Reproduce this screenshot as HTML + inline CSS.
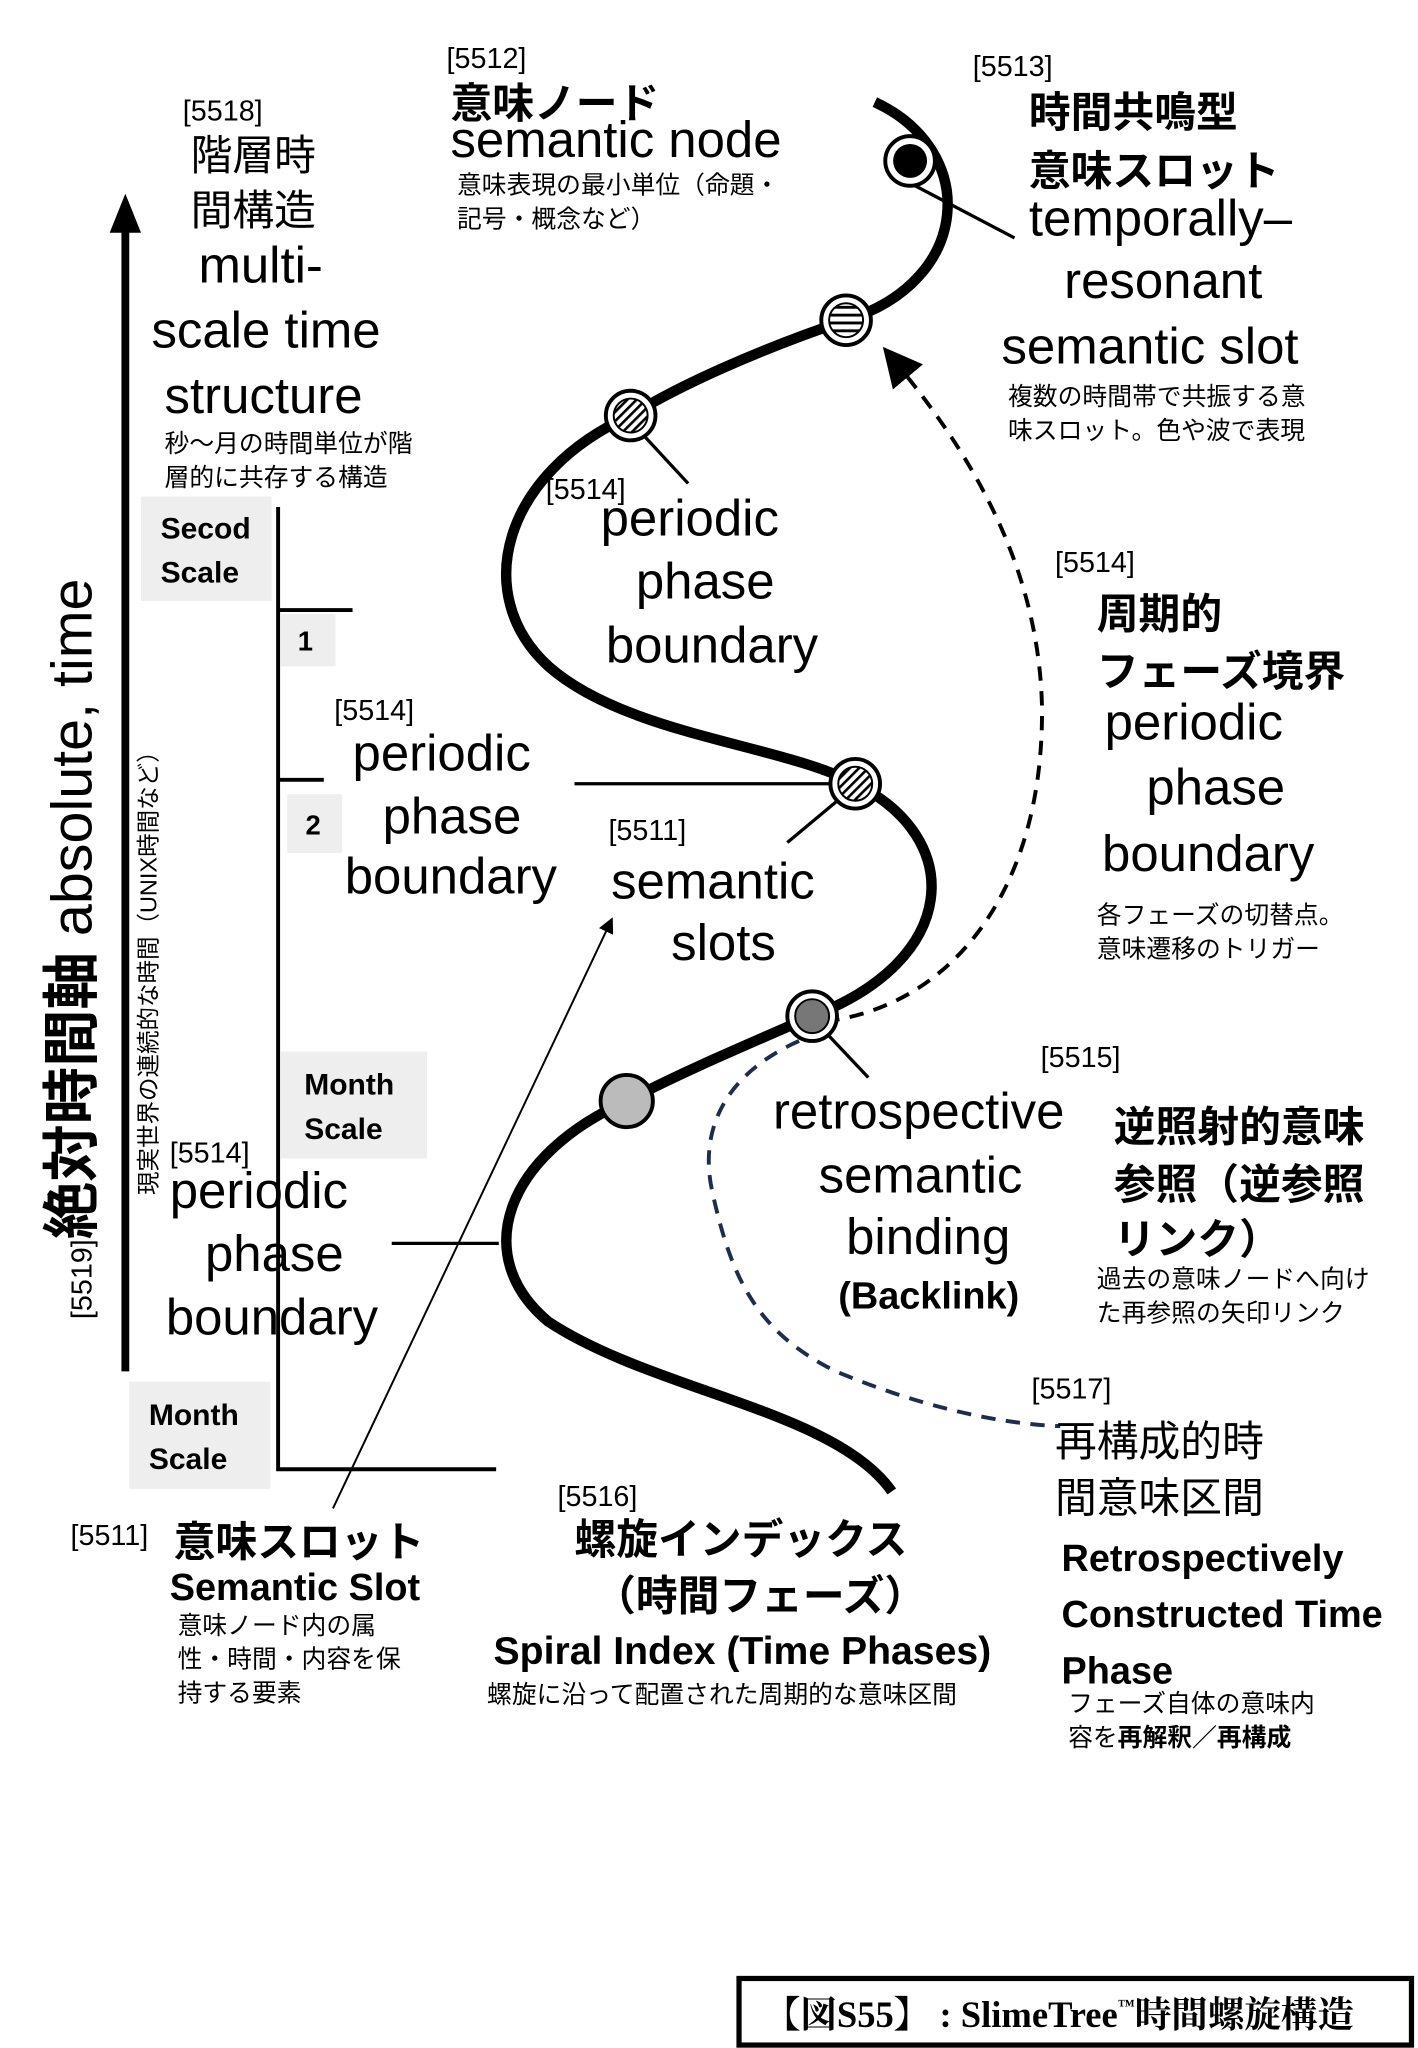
<!DOCTYPE html>
<html><head><meta charset="utf-8"><style>
html,body{margin:0;padding:0;background:#fff;}
svg{display:block}
text{font-family:"Liberation Sans","Noto Sans CJK JP",sans-serif;fill:#000}
.b{font-size:39px}
.s{font-size:19px}
.t{font-size:22px}
.j{font-size:32px;font-weight:bold}
.m{font-size:18px}
</style></head><body>
<svg width="1418" height="2048" viewBox="0 0 1086 1568" xmlns="http://www.w3.org/2000/svg">
<defs>
<pattern id="hs" width="6" height="6" patternUnits="userSpaceOnUse"><rect width="6" height="6" fill="#fff"/><rect y="0" width="6" height="2.2" fill="#000"/></pattern>
<pattern id="dg" width="5" height="5" patternUnits="userSpaceOnUse" patternTransform="rotate(45)"><rect width="5" height="5" fill="#fff"/><rect width="2" height="5" fill="#000"/></pattern>
<marker id="ah" markerWidth="10" markerHeight="10" refX="8" refY="5" orient="auto"><path d="M0,0 L10,5 L0,10 z" fill="#000"/></marker>
<marker id="ah2" markerWidth="8" markerHeight="8" refX="6" refY="4" orient="auto"><path d="M0,0 L8,4 L0,8 z" fill="#000"/></marker>
</defs>
<rect x="108" y="380" width="100" height="80" fill="#eee"/>
<rect x="215" y="470" width="42" height="40" fill="#eee"/>
<rect x="220" y="608" width="42" height="45" fill="#eee"/>
<rect x="215" y="805" width="112" height="82" fill="#eee"/>
<rect x="99" y="1058" width="108" height="82" fill="#eee"/>
<text x="123" y="412" style="font-size:23px;font-weight:bold">Secod</text>
<text x="123" y="446" style="font-size:23px;font-weight:bold">Scale</text>
<text x="228" y="498" style="font-size:21px;font-weight:bold">1</text>
<text x="234" y="639" style="font-size:21px;font-weight:bold">2</text>
<text x="233" y="838" style="font-size:23px;font-weight:bold">Month</text>
<text x="233" y="872" style="font-size:23px;font-weight:bold">Scale</text>
<text x="114" y="1091" style="font-size:23px;font-weight:bold">Month</text>
<text x="114" y="1125" style="font-size:23px;font-weight:bold">Scale</text>
<path d="M213,388 V1125 H380" stroke="#000" stroke-width="3" fill="none"/>
<line x1="213" y1="467" x2="270" y2="467" stroke="#000" stroke-width="3"/>
<line x1="213" y1="597" x2="248" y2="597" stroke="#000" stroke-width="3"/>
<line x1="96" y1="1050" x2="96" y2="170" stroke="#000" stroke-width="6"/>
<path d="M84,178 L96,148 L108,178 z" fill="#000"/>
<line x1="697" y1="140" x2="777" y2="182" stroke="#000" stroke-width="2.5"/>
<line x1="490" y1="330" x2="527" y2="370" stroke="#000" stroke-width="2.5"/>
<line x1="440" y1="600" x2="645" y2="600" stroke="#000" stroke-width="2.5"/>
<line x1="645" y1="610" x2="603" y2="645" stroke="#000" stroke-width="2.5"/>
<line x1="632" y1="790" x2="665" y2="825" stroke="#000" stroke-width="2.5"/>
<line x1="300" y1="952" x2="382" y2="952" stroke="#000" stroke-width="2.5"/>
<line x1="255" y1="1155" x2="468" y2="705" stroke="#000" stroke-width="1.5" marker-end="url(#ah2)"/>
<path d="M670,78 C750,115 745,215 648,245 C580,268 520,295 483,318 C385,362 360,455 420,510 C480,563 600,570 655,600 C740,642 735,735 622,778 C560,805 520,822 480,843 C386,885 360,962 420,1012 C500,1065 640,1080 683,1142" stroke="#000" stroke-width="8" fill="none"/>
<path d="M632,782 C730,770 800,680 798,540 C795,420 730,330 680,270" stroke="#000" stroke-width="3" stroke-dasharray="11,8" fill="none" marker-end="url(#ah)"/>
<path d="M612,797 C560,820 535,860 545,910 C560,980 580,1020 640,1050 C700,1075 760,1090 812,1092" stroke="#1f2d4d" stroke-width="3" stroke-dasharray="11,8" fill="none"/>
<circle cx="697" cy="123" r="19" fill="#fff" stroke="#000" stroke-width="3"/>
<circle cx="697" cy="123" r="13" fill="#000"/>
<circle cx="648" cy="245" r="19" fill="#fff" stroke="#000" stroke-width="3"/>
<circle cx="648" cy="245" r="13" fill="url(#hs)" stroke="#000" stroke-width="1.5"/>
<circle cx="483" cy="318" r="19" fill="#fff" stroke="#000" stroke-width="3"/>
<circle cx="483" cy="318" r="13" fill="url(#dg)" stroke="#000" stroke-width="1.5"/>
<circle cx="655" cy="600" r="19" fill="#fff" stroke="#000" stroke-width="3"/>
<circle cx="655" cy="600" r="13" fill="url(#dg)" stroke="#000" stroke-width="1.5"/>
<circle cx="622" cy="778" r="19" fill="#fff" stroke="#000" stroke-width="3"/>
<circle cx="622" cy="778" r="13" fill="#777" stroke="#000" stroke-width="1.5"/>
<circle cx="480" cy="843" r="20" fill="#bbb" stroke="#000" stroke-width="3"/>
<text x="342" y="52" class="t">[5512]</text>
<text x="345" y="90" class="j">意味ノード</text>
<text x="345" y="120" class="b">semantic node</text>
<text x="350" y="148" class="s">意味表現の最小単位（命題・</text>
<text x="350" y="174" class="s">記号・概念など）</text>
<text x="745" y="58" class="t">[5513]</text>
<text x="788" y="97" class="j">時間共鳴型</text>
<text x="788" y="142" class="j">意味スロット</text>
<text x="788" y="180" class="b">temporally–</text>
<text x="815" y="228" class="b">resonant</text>
<text x="767" y="278" class="b">semantic slot</text>
<text x="772" y="310" class="s">複数の時間帯で共振する意</text>
<text x="772" y="336" class="s">味スロット。色や波で表現</text>
<text x="140" y="92" class="t">[5518]</text>
<text x="146" y="130" style="font-size:32px">階層時</text>
<text x="146" y="172" style="font-size:32px">間構造</text>
<text x="152" y="216" class="b">multi-</text>
<text x="116" y="266" class="b">scale time</text>
<text x="126" y="316" class="b">structure</text>
<text x="126" y="346" class="s">秒〜月の時間単位が階</text>
<text x="126" y="372" class="s">層的に共存する構造</text>
<text x="418" y="382" class="t">[5514]</text>
<text x="460" y="410" class="b">periodic</text>
<text x="487" y="458" class="b">phase</text>
<text x="464" y="507" class="b">boundary</text>
<text x="808" y="438" class="t">[5514]</text>
<text x="840" y="481" class="j">周期的</text>
<text x="840" y="525" class="j">フェーズ境界</text>
<text x="846" y="566" class="b">periodic</text>
<text x="878" y="616" class="b">phase</text>
<text x="844" y="667" class="b">boundary</text>
<text x="840" y="707" class="s">各フェーズの切替点。</text>
<text x="840" y="733" class="s">意味遷移のトリガー</text>
<text x="256" y="551" class="t">[5514]</text>
<text x="270" y="590" class="b">periodic</text>
<text x="293" y="638" class="b">phase</text>
<text x="264" y="684" class="b">boundary</text>
<text x="466" y="643" class="t">[5511]</text>
<text x="468" y="688" class="b">semantic</text>
<text x="514" y="735" class="b">slots</text>
<text x="797" y="817" class="t">[5515]</text>
<text x="592" y="864" class="b">retrospective</text>
<text x="627" y="913" class="b">semantic</text>
<text x="648" y="960" class="b">binding</text>
<text x="642" y="1002" style="font-size:29px;font-weight:bold">(Backlink)</text>
<text x="853" y="874" class="j">逆照射的意味</text>
<text x="853" y="918" class="j">参照（逆参照</text>
<text x="853" y="960" class="j">リンク）</text>
<text x="840" y="986" class="s">過去の意味ノードへ向け</text>
<text x="840" y="1012" class="s">た再参照の矢印リンク</text>
<text x="130" y="890" class="t">[5514]</text>
<text x="130" y="925" class="b">periodic</text>
<text x="157" y="973" class="b">phase</text>
<text x="127" y="1022" class="b">boundary</text>
<text x="790" y="1071" class="t">[5517]</text>
<text x="808" y="1115" style="font-size:32px">再構成的時</text>
<text x="808" y="1158" style="font-size:32px">間意味区間</text>
<text x="813" y="1203" style="font-size:29px;font-weight:bold">Retrospectively</text>
<text x="813" y="1246" style="font-size:29px;font-weight:bold">Constructed Time</text>
<text x="813" y="1289" style="font-size:29px;font-weight:bold">Phase</text>
<text x="818" y="1311" class="s">フェーズ自体の意味内</text>
<text x="818" y="1337" class="s">容を<tspan font-weight="bold">再解釈／再構成</tspan></text>
<text x="54" y="1183" class="t">[5511]</text>
<text x="133" y="1192" class="j">意味スロット</text>
<text x="130" y="1225" style="font-size:29px;font-weight:bold">Semantic Slot</text>
<text x="136" y="1251" class="s">意味ノード内の属</text>
<text x="136" y="1277" class="s">性・時間・内容を保</text>
<text x="136" y="1303" class="s">持する要素</text>
<text x="427" y="1153" class="t">[5516]</text>
<text x="440" y="1190" class="j">螺旋インデックス</text>
<text x="455" y="1233" class="j">（時間フェーズ）</text>
<text x="378" y="1274" style="font-size:30px;font-weight:bold">Spiral Index (Time Phases)</text>
<text x="373" y="1304" class="s">螺旋に沿って配置された周期的な意味区間</text>
<text transform="translate(70,1010) rotate(-90)" style="font-size:44px"><tspan style="font-size:22px">[5519]</tspan><tspan font-weight="bold">絶対時間軸</tspan> absolute, time</text>
<text transform="translate(120,915) rotate(-90)" class="m">現実世界の連続的な時間（UNIX時間など）</text>
<rect x="566" y="1515" width="515" height="51" fill="#fff" stroke="#000" stroke-width="4"/>
<text x="585" y="1552" style="font-family:'Liberation Serif','Noto Serif CJK SC',serif;font-size:28px;font-weight:bold">【図S55】 :  SlimeTree<tspan font-size="13" dy="-12">™</tspan><tspan dy="12">時間螺旋構造</tspan></text>
</svg>
</body></html>
